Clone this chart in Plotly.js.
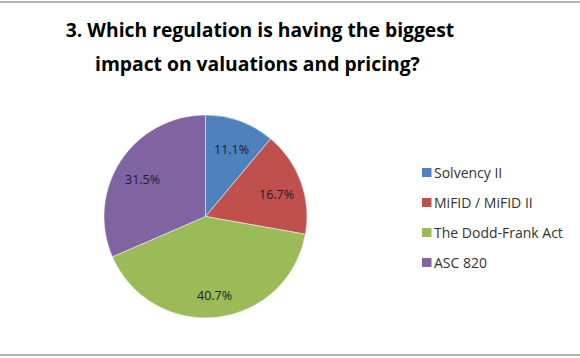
<!DOCTYPE html>
<html>
<head>
<meta charset="utf-8">
<script src="https://cdn.plot.ly/plotly-3.0.1.min.js"></script>
<style>
html,body{margin:0;padding:0;background:#fff;}
#wrap{position:relative;width:580px;height:358px;overflow:hidden;}
#topline{position:absolute;left:0;top:1px;width:580px;height:2px;background:#b4b4b4;z-index:5;}
#botline{position:absolute;left:0;top:354px;width:580px;height:2px;background:#b4b4b4;z-index:5;}
#chart{width:580px;height:358px;}
</style>
</head>
<body>
<div id="wrap">
<div id="topline"></div>
<div id="chart"></div>
<div id="botline"></div>
</div>
<script>
const titleLine1 = "3. Which regulation is having the biggest";
const titleLine2 = "impact on valuations and pricing?";
const categories = ["Solvency II", "MiFID / MiFID II", "The Dodd-Frank Act", "ASC 820"];
const shares = [11.1, 16.7, 40.7, 31.5];
const colors = ["#4F81BD", "#C0504D", "#9BBB59", "#8064A2"];

const W = 580, H = 358;
const px = x => x / W;
const py = y => 1 - y / H;
const FONT = "Open Sans, Liberation Sans, sans-serif";

// pie geometry (pixels)
const pieL = 104, pieR = 307, pieT = 115, pieB = 318;
const cx = (pieL + pieR) / 2, cy = (pieT + pieB) / 2, R = (pieR - pieL) / 2;

const trace = {
  type: "pie",
  labels: categories,
  values: shares,
  sort: false,
  direction: "clockwise",
  rotation: 0,
  marker: {colors: colors, line: {color: "#ffffff", width: 0.5}},
  textinfo: "none",
  hoverinfo: "label+percent",
  showlegend: false,
  domain: {x: [px(pieL), px(pieR)], y: [py(pieB), py(pieT)]}
};

const annotations = [];
const shapes = [];

// slice labels placed at the mid-angle of each slice
const total = shares.reduce((a, b) => a + b, 0);
let cum = 0;
shares.forEach((v, i) => {
  const mid = (cum + v / 2) / total * 2 * Math.PI;
  cum += v;
  const r = 0.74 * R;
  annotations.push({
    xref: "paper", yref: "paper",
    x: px(cx + r * Math.sin(mid)), y: py(cy + 4 - r * Math.cos(mid)),
    xanchor: "center", yanchor: "middle", showarrow: false,
    text: v.toFixed(1) + "%",
    font: {family: FONT, size: 12.5, color: "#1c1c2a"}
  });
});

// legend
const legendTop = 172.5, legendStep = 30;
categories.forEach((c, i) => {
  const yc = legendTop + i * legendStep;
  shapes.push({
    type: "rect", xref: "paper", yref: "paper",
    x0: px(422), x1: px(431.5), y0: py(yc + 4.5), y1: py(yc - 4.5),
    fillcolor: colors[i], line: {width: 0}
  });
  annotations.push({
    xref: "paper", yref: "paper", x: px(432), y: py(yc),
    xanchor: "left", yanchor: "middle", showarrow: false,
    text: c,
    font: {family: FONT, size: 14, color: "#333333"}
  });
});

// second title line
annotations.push({
  xref: "paper", yref: "paper", x: px(257), y: py(70),
  xanchor: "center", yanchor: "bottom", yshift: -9, showarrow: false,
  text: titleLine2,
  font: {family: FONT, size: 19.3, color: "#000000", weight: "bold"}
});

const layout = {
  width: W, height: H,
  margin: {l: 0, r: 0, t: 0, b: 0},
  paper_bgcolor: "#ffffff",
  title: {
    text: titleLine1,
    x: px(260), xanchor: "center",
    y: py(37), yanchor: "bottom",
    font: {family: FONT, size: 19.3, color: "#000000", weight: "bold"}
  },
  showlegend: false,
  shapes: shapes,
  annotations: annotations
};

Plotly.newPlot("chart", [trace], layout, {displayModeBar: false, staticPlot: true});
</script>
</body>
</html>
